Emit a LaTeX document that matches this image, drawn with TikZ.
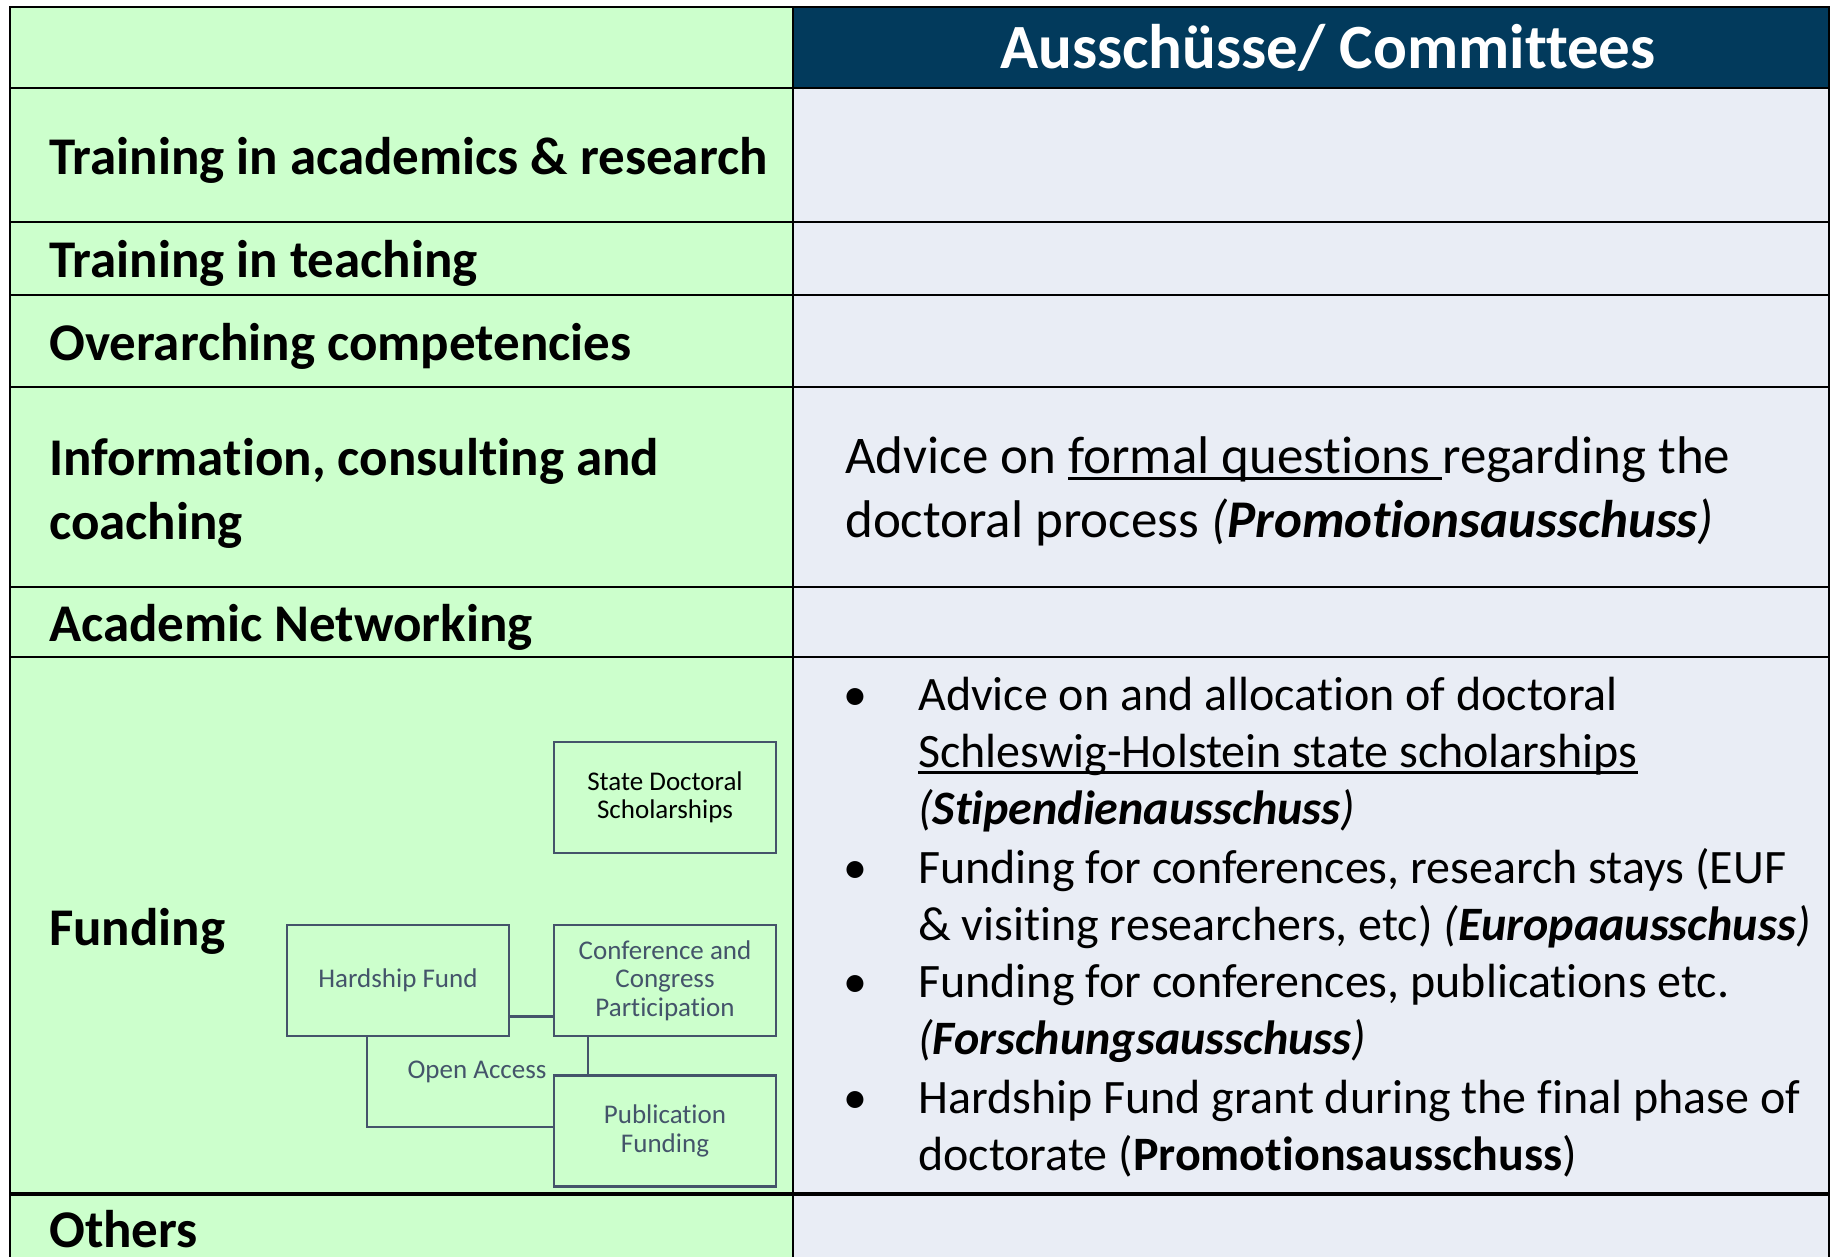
\documentclass[tikz,border=0pt]{standalone}
\usepackage{fontspec}
\setmainfont{Carlito}[Ligatures=NoCommon]
\definecolor{greenbg}{HTML}{CCFFCC}
\definecolor{bluebg}{HTML}{E9EDF5}
\definecolor{navy}{HTML}{023A5C}
\definecolor{boxc}{HTML}{44546A}
\newcommand\myul[1]{\setbox0\hbox{#1}\rlap{\rule[-7pt]{\wd0}{2.6pt}}\box0}
\tikzset{
  grid/.style={line width=2.5pt, black},
  lbl/.style={anchor=base west, inner sep=0pt, font=\fontsize{53}{64}\selectfont\bfseries},
  rtxt/.style={anchor=base west, inner sep=0pt, font=\fontsize{53}{64}\selectfont},
  bul/.style={anchor=base west, inner sep=0pt, font=\fontsize{48}{57}\selectfont},
  sbox/.style={draw=boxc, line width=2.5pt, minimum width=222pt, minimum height=111pt, inner sep=2pt, align=center, text=boxc, font=\fontsize{27}{28.5}\selectfont},
  conn/.style={draw=boxc, line width=2.5pt},
}
\begin{document}
\begin{tikzpicture}[x=1pt,y=-1pt]
\useasboundingbox (0,0) rectangle (1833,1257);
\fill[white] (0,0) rectangle (1833,1257);
% backgrounds
\fill[greenbg] (10,7) rectangle (793,1257);
\fill[bluebg] (793,88) rectangle (1829,1257);
\fill[navy] (793,7) rectangle (1829,88);
% grid
\draw[grid] (10,1260) -- (10,7) -- (1829,7) -- (1829,1260);
\draw[grid] (793,7) -- (793,1260);
\foreach \yy in {88,222,295,387,587,657} \draw[grid] (10,\yy) -- (1829,\yy);
\draw[line width=4pt] (10,1194) -- (1829,1194);
% header
\node[anchor=base, inner sep=0pt, text=white, font=\fontsize{63}{72}\selectfont\bfseries] (hdr) at (1328,69) {Ausschüsse/ Committees};
% left labels
\node[lbl] (l1) at (49,175) {Training in academics \& research};
\node[lbl] (l2) at (49,277) {Training in teaching};
\node[lbl] (l3) at (49,360) {Overarching competencies};
\node[lbl] (l4a) at (49,475) {Information, consulting and};
\node[lbl] (l4b) at (49,539) {coaching};
\node[lbl] (l5) at (49,641) {Academic Networking};
\node[lbl] (l6) at (49,945) {Funding};
\node[lbl] (l7) at (49,1247) {Others};
% right texts
\node[rtxt] (r1a) at (845,473) {Advice on \myul{formal questions }regarding the};
\node[rtxt] (r1b) at (845,537) {doctoral process \textit{(\textbf{Promotionsausschuss})}};
\foreach \yy in {710,883,997,1113} \node[bul] at (843,\yy) {•};
\node[bul] (b1a) at (918,710) {Advice on and allocation of doctoral};
\node[bul] (b1b) at (918,767) {\myul{Schleswig-Holstein state scholarships}};
\node[bul] (b1c) at (918,824) {\textit{(\textbf{Stipendienausschuss})}};
\node[bul] (b2a) at (918,883) {Funding for conferences, research stays (EUF};
\node[bul] (b2b) at (918,940) {\& visiting researchers, etc) \textit{(\textbf{Europaausschuss})}};
\node[bul] (b3a) at (918,997) {Funding for conferences, publications etc.};
\node[bul] (b3b) at (918,1054) {\textit{(\textbf{Forschungsausschuss})}};
\node[bul] (b4a) at (918,1113) {Hardship Fund grant during the final phase of};
\node[bul] (b4b) at (918,1170) {doctorate (\textbf{Promotionsausschuss})};
% funding diagram
\node[sbox, text=black] (sd) at (665,797.5) {State Doctoral\\Scholarships};
\node[sbox] (hf) at (398,980.5) {Hardship Fund};
\node[sbox] (cc) at (665,980.5) {Conference and\\Congress\\Participation};
\node[sbox] (pf) at (665,1131) {Publication\\Funding};
\draw[conn] ([yshift=-36pt]hf.east) -- ([yshift=-36pt]cc.west);
\draw[conn] ([xshift=-77pt]cc.south) -- ([xshift=-77pt]pf.north);
\draw[conn] ([xshift=-31pt]hf.south) |- ([yshift=4pt]pf.west);
\node[inner sep=0pt, text=boxc, font=\fontsize{27}{28.5}\selectfont] (oa) at (477,1072) {Open Access};
\end{tikzpicture}
\end{document}
